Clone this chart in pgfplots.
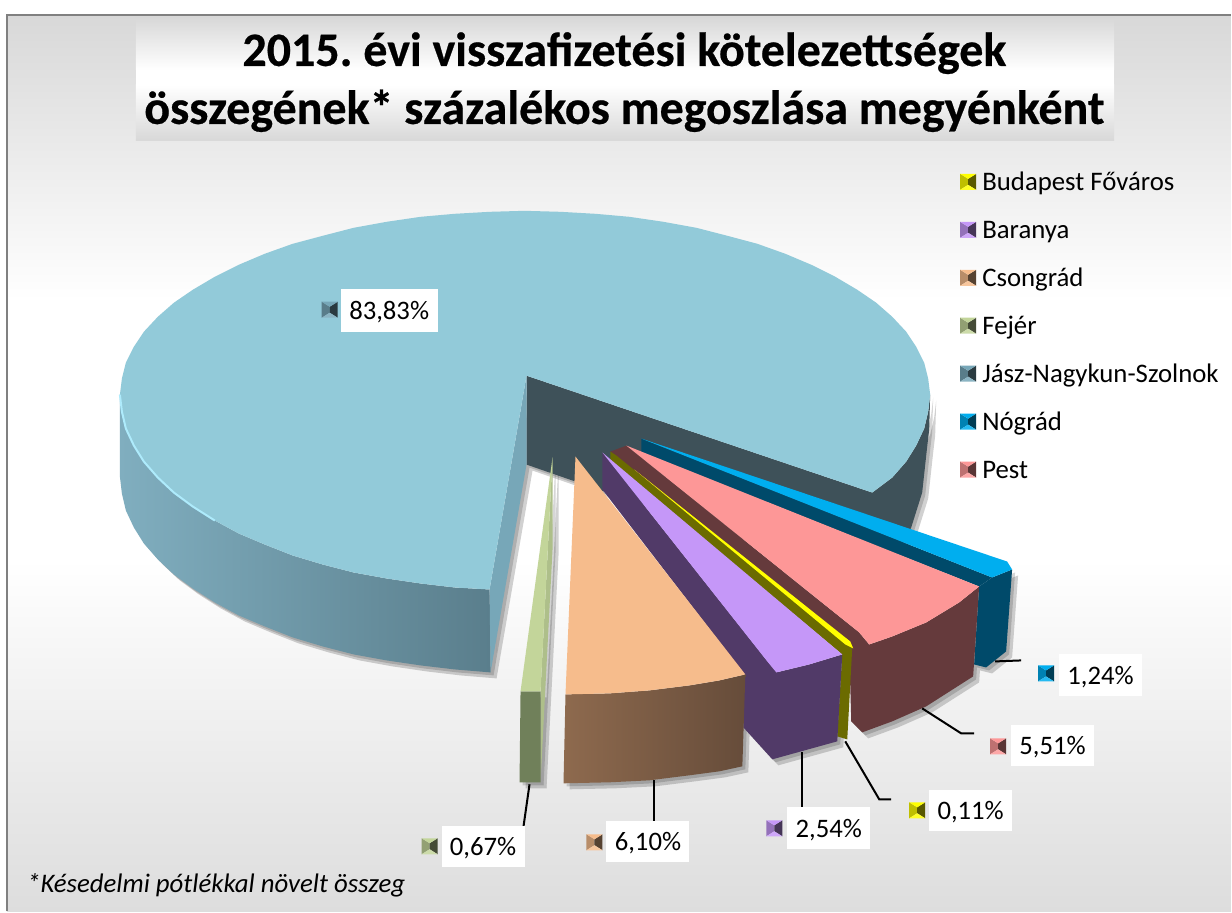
\documentclass[border=0pt]{standalone}
\usepackage{fontspec}
\setmainfont{Carlito}
\usepackage{pgfplots}
\usepackage{pgfplotstable}
\pgfplotsset{compat=1.18}
\frenchspacing

\definecolor{bgtop}{HTML}{D8D8D8}
\definecolor{bgbot}{HTML}{DDDDDD}
\definecolor{pie}{HTML}{92CAD9}
\definecolor{pieside}{HTML}{80AEBF}
\definecolor{piesideb}{HTML}{5A7E8C}
\definecolor{piewall}{HTML}{77A7B8}
\definecolor{piedark}{HTML}{3E5159}
\definecolor{pierim}{HTML}{AEEBFC}
\definecolor{blue1}{HTML}{00AEEF}
\definecolor{blue2}{HTML}{004A6A}
\definecolor{pest1}{HTML}{FD9797}
\definecolor{pest2}{HTML}{653A3C}
\definecolor{yel1}{HTML}{FFFF00}
\definecolor{yel2}{HTML}{6B6B00}
\definecolor{bar1}{HTML}{C597F8}
\definecolor{bar2}{HTML}{513A68}
\definecolor{ora1}{HTML}{F6BC8C}
\definecolor{ora2}{HTML}{8E6A4E}
\definecolor{ora3}{HTML}{664C3A}
\definecolor{fej1}{HTML}{C3D59A}
\definecolor{fej2}{HTML}{AEBF8A}
\definecolor{fej3}{HTML}{70805A}

% all shapes are traced in picture pixels
\pgfplotstableread{
x y
527 376
873 493
893 478
907 462
917 446
925 429
929 412
931 395
929 379
925 363
917 347
907 332
893 317
877 303
858 290
836 277
812 265
786 254
758 244
728 236
697 228
664 222
630 217
596 214
561 212
525 211
490 212
455 214
421 217
387 222
354 228
323 236
293 244
265 254
239 265
215 277
193 290
174 303
158 317
144 332
134 347
126 363
122 379
120 395
122 412
126 429
134 446
144 462
158 478
174 493
193 507
215 521
239 534
265 545
293 556
323 565
354 573
387 579
421 584
455 588
490 590
}\pietop
\pgfplotstableread{
x y
120 395
122 412
126 429
134 446
144 462
158 478
174 493
193 507
215 521
239 534
265 545
293 556
323 565
354 573
387 579
421 584
455 588
490 590
491 673
455 670
421 666
387 661
354 655
323 647
293 638
265 627
239 616
215 603
193 589
174 575
158 560
144 544
134 528
126 511
122 494
120 477
}\pieside
\pgfplotstableread{
x y
527 376
490 590
491 673
527 465
}\piewall
\pgfplotstableread{
x y
527 376
873 493
893 478
907 462
917 446
925 429
929 412
931 395
930 430
928 447
923 493
912 528
890 570
873 585
527 465
}\piedark
\pgfplotstableread{
x y
642 439
1008 562
1013 570
993 578
}\ntop
\pgfplotstableread{
x y
642 439
993 578
980 587
642 453
}\nwall
\pgfplotstableread{
x y
993 578
1013 570
1007 652
987 668
975 665
980 587
}\nside
\pgfplotstableread{
x y
627 446
980 587
960 603
927 623
893 637
870 645
860 633
}\ptop
\pgfplotstableread{
x y
627 446
860 633
870 645
850 655
611 452
}\pwall
\pgfplotstableread{
x y
870 645
893 637
927 623
960 603
980 587
974 677
927 707
893 722
863 733
852 722
850 650
}\pside
\pgfplotstableread{
x y
611 452
617 456
853 648
848 740
838 737
843 655
611 462
}\ywall
\pgfplotstableread{
x y
635 470
851 642
854 649
846 645
}\ytop
\pgfplotstableread{
x y
603 453
843 655
810 665
777 673
768 662
}\btop
\pgfplotstableread{
x y
603 453
777 673
745 675
603 490
}\bwall
\pgfplotstableread{
x y
768 662
777 673
810 665
843 655
838 742
773 760
744 728
745 675
}\bside
\pgfplotstableread{
x y
576 457
746 675
720 681
690 686
650 691
610 694
566 695
}\otop
\pgfplotstableread{
x y
566 695
610 694
650 691
690 686
720 681
746 675
743 767
720 772
690 776
650 781
610 783
564 784
}\oside
\pgfplotstableread{
x y
553 458
541 692
521 692
}\ftop
\pgfplotstableread{
x y
553 458
541 692
541 783
553 550
}\fwall
\pgfplotstableread{
x y
521 692
541 692
541 783
520 783
}\fside

% unit pyramid of the small markers
\pgfplotstableread{
x y
-8 -8
8 -8
0 -3
}\mt
\pgfplotstableread{
x y
-8 8
8 8
0 3
}\mb
\pgfplotstableread{
x y
-8 -8
0 -3
0 3
-8 8
}\ml
\pgfplotstableread{
x y
8 -8
0 -3
0 3
8 8
}\mr

\newcommand\face[2]{\addplot[draw=none,#1] table {#2} --cycle;}
\newcommand\shadow[1]{%
  \addplot[draw=none,fill=black,opacity=.16] table[x expr=\thisrow{x}+3,y expr=\thisrow{y}+3] {#1} --cycle;
  \addplot[draw=none,fill=black,opacity=.18] table[x expr=\thisrow{x}+6,y expr=\thisrow{y}+6] {#1} --cycle;
}
\newcommand\bevel[3]{%
  \addplot[draw=none,fill=#3!75!black] table[x expr=\thisrow{x}+#1,y expr=\thisrow{y}+#2] {\ml} --cycle;
  \addplot[draw=none,fill=#3!35!black] table[x expr=\thisrow{x}+#1,y expr=\thisrow{y}+#2] {\mr} --cycle;
  \addplot[draw=none,fill=#3] table[x expr=\thisrow{x}+#1,y expr=\thisrow{y}+#2] {\mt} --cycle;
  \addplot[draw=none,fill=#3!85!white] table[x expr=\thisrow{x}+#1,y expr=\thisrow{y}+#2] {\mb} --cycle;
}
\newcommand\rect[5]{\addplot[draw=none,#5] coordinates {(#1,#2) (#3,#2) (#3,#4) (#1,#4)} --cycle;}
\newcommand\lab[5]{% box x1 y1 x2 y2, text
  \rect{#1}{#2}{#3}{#4}{fill=white}
  \node[anchor=base,inner sep=0pt,font=\fontsize{26.7}{30}\selectfont] at (axis cs:{(#1+#3)/2},{(#2+#4)/2+9}) {#5};
}
\newcommand\leg[3]{%
  \bevel{969}{#1}{#2}
  \node[anchor=base west,inner sep=0pt,font=\fontsize{26.8}{30}\selectfont] at (axis cs:983,{#1+9}) {#3};
}

\begin{document}
\begin{tikzpicture}
\begin{axis}[
    scale only axis,
    width=1232pt,
    height=912pt,
    xmin=0, xmax=1232,
    ymin=0, ymax=912,
    y dir=reverse,
    hide axis,
    clip=false,
  ]
  % chart area
  \rect{0}{0}{1232}{912}{fill=white}
  \rect{7}{15}{1232}{300}{top color=bgtop,bottom color=white}
  \rect{7}{560}{1232}{912}{top color=white,bottom color=bgbot}
  \addplot[color=black!50,line width=2.2pt] coordinates {(7,912) (7,15) (1232,15)};

  % title box
  \rect{136}{18}{1115}{70}{top color=bgtop,bottom color=white}
  \rect{136}{70}{1115}{85}{fill=white}
  \rect{136}{85}{1115}{141}{top color=white,bottom color=bgtop}
  \node[anchor=base,inner sep=0pt,font=\fontsize{48}{50}\selectfont\bfseries\addfontfeature{FakeBold=0.5}] at (axis cs:625,66) {2015. évi visszafizetési kötelezettségek};
  \node[anchor=base,inner sep=0pt,font=\fontsize{48}{50}\selectfont\bfseries\addfontfeature{FakeBold=0.5}] at (axis cs:625,124) {összegének* százalékos megoszlása megyénként};

  % shadows
  \shadow{\pieside}
  \shadow{\piewall}
  \shadow{\piedark}
  \shadow{\nside}
  \shadow{\pside}
  \shadow{\bside}
  \shadow{\oside}
  \shadow{\fside}
  \shadow{\fwall}

  % big slice
  \face{fill=piedark}{\piedark}
  \face{left color=pieside,right color=piesideb}{\pieside}
  \face{fill=piewall}{\piewall}
  \face{fill=pie}{\pietop}
  \addplot[color=pierim,line width=2pt] coordinates {(120,395) (122,412) (126,429) (134,446) (144,462) (158,478) (174,493) (193,507) (215,521)};

  % Nógrád
  \face{fill=blue2}{\nwall}
  \face{fill=blue2}{\nside}
  \face{fill=blue1}{\ntop}
  % Pest
  \face{fill=pest2}{\pwall}
  \face{fill=pest2}{\pside}
  \face{fill=pest1}{\ptop}
  % Budapest
  \face{fill=yel2}{\ywall}
  \face{fill=yel1}{\ytop}
  % Baranya
  \face{fill=bar2}{\bwall}
  \face{fill=bar2}{\bside}
  \face{fill=bar1}{\btop}
  % Csongrád
  \face{left color=ora2,right color=ora3}{\oside}
  \face{fill=ora1}{\otop}
  % Fejér
  \face{fill=fej2}{\fwall}
  \face{fill=fej3}{\fside}
  \face{fill=fej1}{\ftop}

  % leader lines
  \addplot[color=black,line width=2pt] coordinates {(996,662) (1022,661)};
  \addplot[color=black,line width=2pt] coordinates {(923,709) (962,734) (975,734)};
  \addplot[color=black,line width=2pt] coordinates {(846,742) (880,800) (892,800)};
  \addplot[color=black,line width=2pt] coordinates {(803,753) (803,808)};
  \addplot[color=black,line width=2pt] coordinates {(655,781) (655,822)};
  \addplot[color=black,line width=2pt] coordinates {(530,785) (524,827)};

  % data labels
  \lab{341}{289}{438}{332}{83,83\%}
  \bevel{330}{310}{piewall}
  \lab{1060}{655}{1143}{697}{1,24\%}
  \bevel{1047}{674}{blue1}
  \lab{1012}{726}{1095}{767}{5,51\%}
  \bevel{999}{747}{pest1}
  \lab{930}{791}{1013}{832}{0,11\%}
  \bevel{918}{811}{yel1}
  \lab{788}{808}{871}{850}{2,54\%}
  \bevel{775}{829}{bar1}
  \lab{607}{822}{690}{863}{6,10\%}
  \bevel{595}{843}{ora1}
  \lab{442}{827}{525}{868}{0,67\%}
  \bevel{430}{847}{fej1}

  % legend
  \leg{182}{yel1}{Budapest Főváros}
  \leg{230}{bar1}{Baranya}
  \leg{278}{ora1}{Csongrád}
  \leg{326}{fej1}{Fejér}
  \leg{374}{piewall}{Jász-Nagykun-Szolnok}
  \leg{422}{blue1}{Nógrád}
  \leg{470}{pest1}{Pest}

  \node[anchor=base west,inner sep=0pt,font=\fontsize{26.8}{30}\selectfont\itshape] at (axis cs:27,893) {*Késedelmi pótlékkal növelt összeg};
\end{axis}
\end{tikzpicture}
\end{document}
